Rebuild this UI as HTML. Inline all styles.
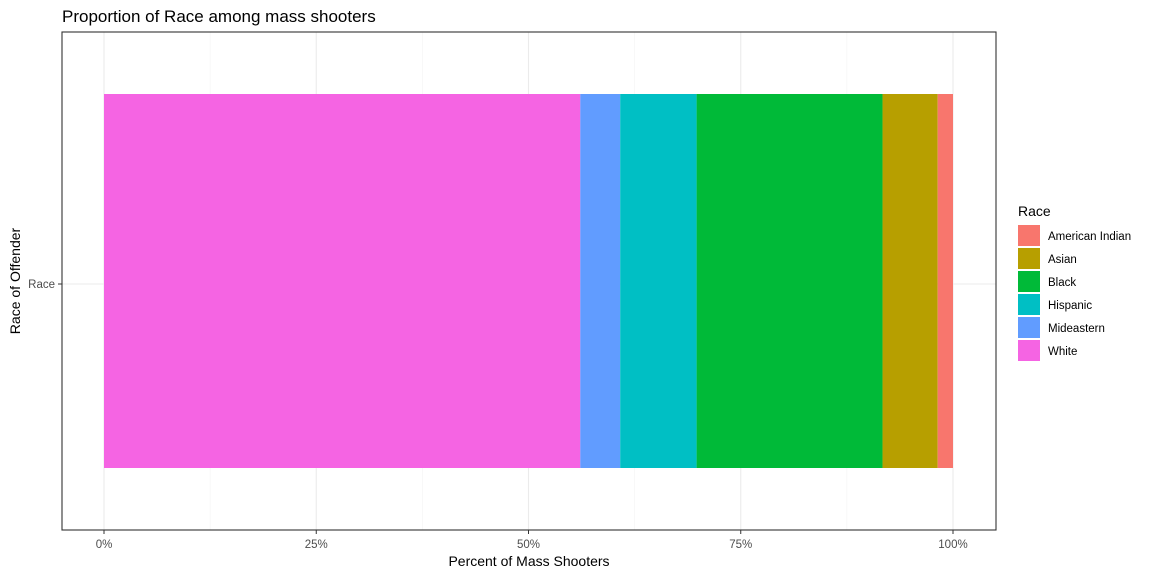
<!DOCTYPE html>
<html><head><meta charset="utf-8"><style>
html,body{margin:0;padding:0;background:#fff;}
svg{display:block;font-family:"Liberation Sans",Arial,sans-serif;}
</style></head><body>
<svg id="chart" width="1152" height="576" viewBox="0 0 1152 576">
<text x="62" y="22" font-size="17" fill="#000">Proportion of Race among mass shooters</text>
<g id="grid"></g>
<g id="bars"></g>
<rect x="62" y="32" width="934" height="498" fill="none" stroke="#333" stroke-width="1.1"/>
<g id="xaxis"></g>
<line x1="58" y1="284" x2="62" y2="284" stroke="#333"/>
<text x="55" y="288" font-size="11.5" fill="#4d4d4d" text-anchor="end">Race</text>
<text x="529" y="566" font-size="14" text-anchor="middle">Percent of Mass Shooters</text>
<text transform="translate(20,281) rotate(-90)" font-size="14" text-anchor="middle">Race of Offender</text>
<text x="1018" y="216" font-size="14">Race</text>
<g id="legend"></g>
</svg>
<script>
const categories = ["White","Mideastern","Hispanic","Black","Asian","American Indian"];
const values = [56.1,4.7,9.0,21.9,6.5,1.8];
const colors = ["#F564E3","#619CFF","#00BFC4","#00BA38","#B79F00","#F8766D"];
const ticks = [0,25,50,75,100];
const tickLabels = ["0%","25%","50%","75%","100%"];
const legendOrder = ["American Indian","Asian","Black","Hispanic","Mideastern","White"];
const NS="http://www.w3.org/2000/svg";
const total = values.reduce((a,b)=>a+b,0);
const x = v => 104 + (v/100)*849;
function mk(tag,attrs,parent){const e=document.createElementNS(NS,tag);for(const k in attrs)e.setAttribute(k,attrs[k]);parent.appendChild(e);return e;}
const grid=document.getElementById('grid');
for(let i=0;i<ticks.length;i++){
  const l=mk('line',{x1:x(ticks[i]),x2:x(ticks[i]),y1:32,y2:530,stroke:'#ebebeb','stroke-width':1.1},grid);
  
  
  if(i<ticks.length-1){const m=(ticks[i]+ticks[i+1])/2;
    const ml=mk('line',{x1:x(m),x2:x(m),y1:32,y2:530,stroke:'#f2f2f2','stroke-width':0.6},grid);
    
    }
}
const hl=mk('line',{x1:62,x2:996,y1:284,y2:284,stroke:'#ebebeb','stroke-width':1.1},grid);


const bars=document.getElementById('bars');
let cum=0;
values.forEach((v,i)=>{
  const p=v/total*100;
  const r=mk('rect',{x:x(cum),y:94,width:x(cum+p)-x(cum),height:374,fill:colors[i]},bars);
  
  
  cum+=p;
});
const xa=document.getElementById('xaxis');
ticks.forEach((t,i)=>{
  const tk=mk('line',{x1:x(t),x2:x(t),y1:530,y2:534,stroke:'#333'},xa);
  
  
  const tx=mk('text',{x:x(t),y:548,'font-size':11.5,fill:'#4d4d4d','text-anchor':'middle'},xa);
  tx.textContent=tickLabels[i];
  
  
});
const lg=document.getElementById('legend');
legendOrder.forEach((c,i)=>{
  const y=225+i*23;
  const k=mk('rect',{x:1018,y:y,width:22,height:21,fill:colors[categories.indexOf(c)]},lg);
  
  
  const t=mk('text',{x:1048,y:y+15,'font-size':11.5,fill:'#000'},lg);
  t.textContent=c;
  
  
});
</script>
</body></html>
